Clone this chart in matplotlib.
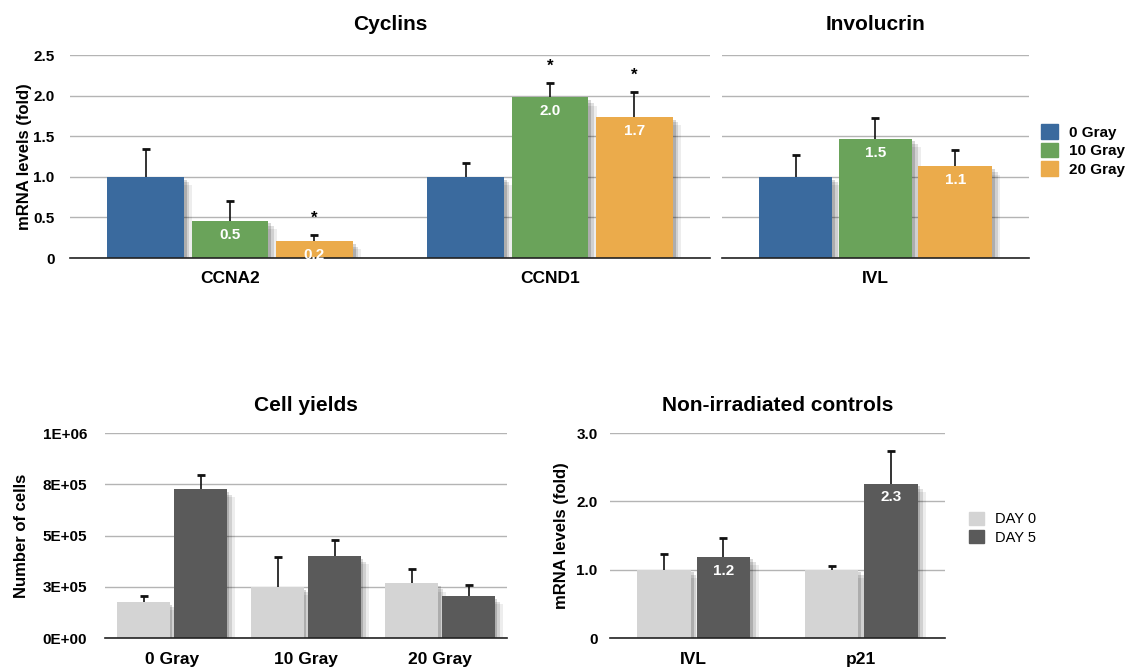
import numpy as np
import matplotlib
matplotlib.use('Agg')
from matplotlib import pyplot as plt
from matplotlib import patheffects as pe

plt.rcParams['font.family'] = ['Liberation Sans', 'DejaVu Sans']

# --- data ---------------------------------------------------------------
gray_series = ['0 Gray', '10 Gray', '20 Gray']
gray_colors = ['#3a6a9e', '#6aa35a', '#ebab4b']

cyclin_genes = ['CCNA2', 'CCND1']
cyclin_vals = [[1.0, 1.0], [0.46, 1.98], [0.21, 1.74]]
cyclin_errs = [[0.34, 0.17], [0.24, 0.18], [0.07, 0.31]]
cyclin_labels = [['', ''], ['0.5', '2.0'], ['0.2', '1.7']]
cyclin_stars = [[False, False], [False, True], [True, True]]

ivl_genes = ['IVL']
ivl_vals = [[1.0], [1.47], [1.13]]
ivl_errs = [[0.27], [0.25], [0.20]]
ivl_labels = [[''], ['1.5'], ['1.1']]

day_series = ['DAY 0', 'DAY 5']
day_colors = ['#d4d4d4', '#5a5a5a']

yield_groups = ['0 Gray', '10 Gray', '20 Gray']
yield_vals = [[177000, 250000, 267000], [727000, 400000, 205000]]
yield_errs = [[28000, 144000, 71000], [68000, 78000, 55000]]
yield_ticks = [0, 250000, 500000, 750000, 1000000]
yield_ticklabels = ['0E+00', '3E+05', '5E+05', '8E+05', '1E+06']

ctrl_genes = ['IVL', 'p21']
ctrl_vals = [[1.0, 1.0], [1.19, 2.26]]
ctrl_errs = [[0.23, 0.05], [0.27, 0.47]]
ctrl_labels = [['', ''], ['1.2', '2.3']]

shadow = [pe.SimplePatchShadow(offset=(2, -2), shadow_rgbFace='k', alpha=0.16),
          pe.SimplePatchShadow(offset=(4, -4), shadow_rgbFace='k', alpha=0.12),
          pe.SimplePatchShadow(offset=(6, -6), shadow_rgbFace='k', alpha=0.07),
          pe.Normal()]


def style_axis(ax, yticks, yticklabels, ylim, show_labels=True, ypad=10, xpad=8):
    ax.set_ylim(*ylim)
    ax.set_yticks(yticks)
    if show_labels:
        ax.set_yticklabels(yticklabels, fontweight='bold', fontsize=11)
    else:
        ax.set_yticklabels([])
    ax.tick_params(axis='y', length=0, pad=ypad)
    ax.tick_params(axis='x', length=0, pad=xpad)
    for s in ['top', 'right', 'left']:
        ax.spines[s].set_visible(False)
    ax.spines['bottom'].set_linewidth(1.2)
    ax.spines['bottom'].set_color('#222222')
    ax.grid(axis='y', color='#b4b4b4', linewidth=1)
    ax.set_axisbelow(True)


def bars(ax, cats, vals, errs, colors, width, step, labels=None, stars=None):
    x = np.arange(len(cats))
    n = len(vals)
    for i in range(n):
        xi = x + (i - (n - 1) / 2) * step
        top = np.array(vals[i]) + np.array(errs[i])
        ax.bar(xi, vals[i], width=width, color=colors[i], zorder=2,
               path_effects=shadow)
        ax.vlines(xi, vals[i], top, color='#111111', linewidth=1.2, zorder=3)
        ax.plot(xi, top, linestyle='none', marker='_', markersize=6,
                markeredgewidth=2, color='#111111', zorder=3)
        for j in range(len(cats)):
            if labels and labels[i][j]:
                ax.annotate(labels[i][j], (xi[j], vals[i][j]), xytext=(0, -10),
                            textcoords='offset points', ha='center', va='center',
                            color='white', fontweight='bold', fontsize=11, zorder=4)
            if stars and stars[i][j]:
                ax.annotate('*', (xi[j], top[j]), xytext=(0, 12),
                            textcoords='offset points', ha='center', va='center',
                            color='black', fontweight='bold', fontsize=12, zorder=4)
    ax.set_xticks(x)
    ax.set_xticklabels(cats, fontweight='bold', fontsize=12.5)
    ax.set_xlim(-0.5, len(cats) - 0.5)


fig = plt.figure(figsize=(11.38, 6.69), dpi=100)

# Cyclins
ax1 = fig.add_axes([0.0615, 0.6143, 0.5624, 0.3034])
style_axis(ax1, [0, 0.5, 1.0, 1.5, 2.0, 2.5], ['0', '0.5', '1.0', '1.5', '2.0', '2.5'],
           (0, 2.5), ypad=11, xpad=9)
bars(ax1, cyclin_genes, cyclin_vals, cyclin_errs, gray_colors, 0.24, 0.264,
     cyclin_labels, cyclin_stars)
ax1.set_title('Cyclins', fontweight='bold', fontsize=15, pad=18)
ax1.set_ylabel('mRNA levels (fold)', fontweight='bold', fontsize=12, labelpad=1)

# Involucrin
ax2 = fig.add_axes([0.6344, 0.6143, 0.2698, 0.3034])
style_axis(ax2, [0, 0.5, 1.0, 1.5, 2.0, 2.5], None, (0, 2.5), show_labels=False, xpad=9)
bars(ax2, ivl_genes, ivl_vals, ivl_errs, gray_colors, 0.24, 0.26, ivl_labels)
ax2.set_title('Involucrin', fontweight='bold', fontsize=15, pad=18)

handles = [plt.Rectangle((0, 0), 1, 1, color=c) for c in gray_colors]
fig.legend(handles, gray_series, loc='upper left', bbox_to_anchor=(0.903, 0.835),
           frameon=False, handlelength=1.1, handleheight=1.1, handletextpad=0.7,
           labelspacing=0.2, prop={'weight': 'bold', 'size': 11})

# Cell yields
ax3 = fig.add_axes([0.0923, 0.0463, 0.3533, 0.3064])
style_axis(ax3, yield_ticks, yield_ticklabels, (0, 1000000), ypad=13, xpad=10)
bars(ax3, yield_groups, yield_vals, yield_errs, day_colors, 0.39, 0.425)
ax3.set_title('Cell yields', fontweight='bold', fontsize=15, pad=16)
ax3.set_ylabel('Number of cells', fontweight='bold', fontsize=12, labelpad=10)

# Non-irradiated controls
ax4 = fig.add_axes([0.536, 0.0463, 0.2944, 0.3064])
style_axis(ax4, [0, 1.0, 2.0, 3.0], ['0', '1.0', '2.0', '3.0'], (0, 3.0), ypad=9, xpad=10)
bars(ax4, ctrl_genes, ctrl_vals, ctrl_errs, day_colors, 0.32, 0.354, ctrl_labels)
ax4.set_title('Non-irradiated controls', fontweight='bold', fontsize=15, pad=16)
ax4.set_ylabel('mRNA levels (fold)', fontweight='bold', fontsize=12, labelpad=5)

handles = [plt.Rectangle((0, 0), 1, 1, color=c) for c in day_colors]
fig.legend(handles, day_series, loc='upper left', bbox_to_anchor=(0.84, 0.255),
           frameon=False, handlelength=1.0, handleheight=1.0, handletextpad=0.8,
           labelspacing=0.3, prop={'size': 10.5})

fig.savefig('out.png', dpi=100)
